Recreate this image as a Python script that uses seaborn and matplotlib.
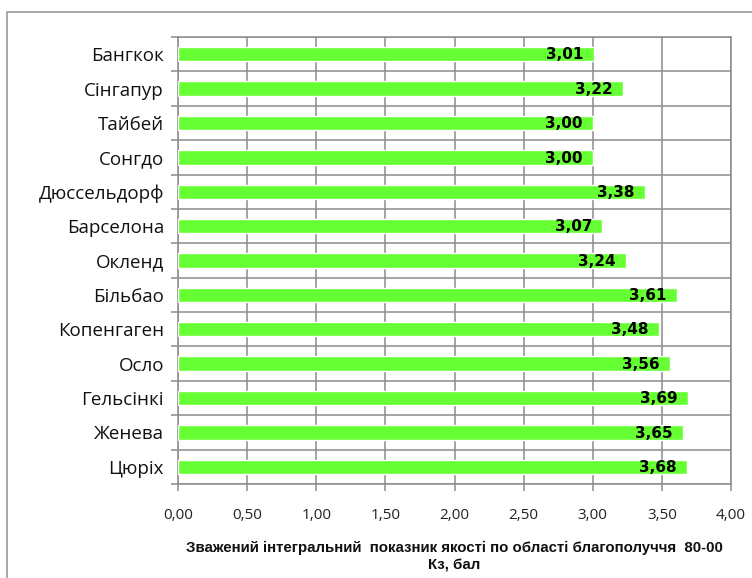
import matplotlib
matplotlib.use("Agg")
import matplotlib.pyplot as plt
from matplotlib.patches import Rectangle
from matplotlib.ticker import FuncFormatter
import seaborn as sns
import pandas as pd
import numpy as np

cities = ["Бангкок", "Сінгапур", "Тайбей", "Сонгдо", "Дюссельдорф", "Барселона",
          "Окленд", "Більбао", "Копенгаген", "Осло", "Гельсінкі", "Женева", "Цюріх"]
scores = [3.01, 3.22, 3.00, 3.00, 3.38, 3.07, 3.24, 3.61, 3.48, 3.56, 3.69, 3.65, 3.68]
x_ticks = [0.0, 0.5, 1.0, 1.5, 2.0, 2.5, 3.0, 3.5, 4.0]
x_title = ("Зважений інтегральний  показник якості по області благополуччя  80-00\n"
           "Кз, бал")

sns.set_theme(style="white")
plt.rcParams["font.family"] = ["Open Sans", "DejaVu Sans"]

df = pd.DataFrame({"city": cities, "score": scores})

fig = plt.figure(figsize=(7.52, 5.78), dpi=100)
ax = fig.add_axes([178 / 752, 1 - 484 / 578, (731 - 178) / 752, (484 - 37) / 578])

# outer chart frame
fig.patches.append(Rectangle((7 / 752, -0.1), 1.2, 1 - 12 / 578 + 0.1,
                             transform=fig.transFigure, fill=False,
                             edgecolor="#9a9a9a", linewidth=1.2, zorder=0))

sns.barplot(data=df, x="score", y="city", orient="h", color="#66FF33",
            saturation=1, width=0.42, ax=ax, zorder=3)

grid_c = "#8c8c8c"
ax.set_xlim(0, 4)
ax.set_ylim(len(cities) - 0.5, -0.5)
ax.set_xticks(x_ticks)
ax.xaxis.set_major_formatter(FuncFormatter(lambda v, p: f"{v:.2f}".replace(".", ",")))
ax.set_yticks(np.arange(len(cities)))
ax.set_yticks(np.arange(len(cities) + 1) - 0.5, minor=True)

ax.grid(True, axis="x", which="major", color=grid_c, linewidth=1.1, zorder=0)
ax.grid(True, axis="y", which="minor", color=grid_c, linewidth=1.1, zorder=0)
ax.set_axisbelow(True)

ax.tick_params(axis="x", which="major", direction="out", length=5, width=1.1,
               color=grid_c, labelsize=11, labelcolor="#222222", pad=12, bottom=True)
ax.tick_params(axis="y", which="major", length=0, labelsize=13.5, labelcolor="#111111", pad=10)
ax.tick_params(axis="y", which="minor", direction="out", length=5, width=1.1,
               color=grid_c, left=True)

for s in ax.spines.values():
    s.set_color(grid_c)
    s.set_linewidth(1.1)

ax.set_ylabel("")
ax.set_xlabel(x_title, fontsize=10.8, fontweight="bold",
              family=["Liberation Sans", "DejaVu Sans"],
              color="#111111", labelpad=13, linespacing=1.3)

for i, v in enumerate(scores):
    ax.annotate(f"{v:.2f}".replace(".", ","), xy=(v, i), xytext=(-7.5, -0.5),
                textcoords="offset points", ha="right", va="center",
                fontsize=11, fontweight="bold", family=["DejaVu Sans"],
                color="black", zorder=4)

fig.savefig("out.png", dpi=100)
